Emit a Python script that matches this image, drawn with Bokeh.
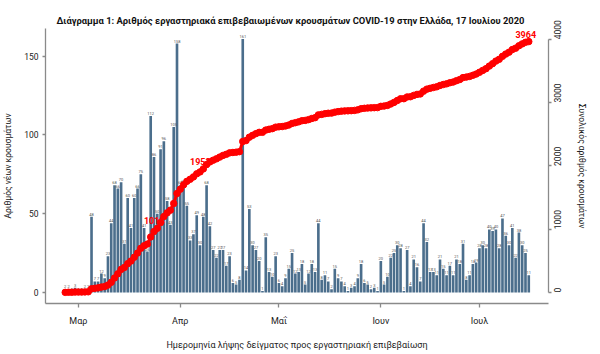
import math
import numpy as np
from bokeh.plotting import figure
from bokeh.models import Range1d, LinearAxis, FixedTicker, ColumnDataSource
from bokeh.embed import file_html
from bokeh.resources import INLINE
from bokeh.core.properties import value

# ---------------- data ----------------
# day index 0 = 26 Feb 2020 ... 141 = 16 Jul 2020
new_cases = [2, 2, 0, 3, 0, 0, 2, 2, 48, 7,
             7, 12, 9, 23, 44, 68, 66, 70, 31, 60,
             41, 60, 66, 75, 41, 26, 112, 86, 50, 91,
             96, 58, 43, 105, 158, 68, 69, 55, 33, 37,
             49, 30, 48, 68, 42, 27, 22, 27, 27, 17,
             23, 6, 5, 8, 161, 14, 53, 30, 27, 20,
             1, 35, 13, 10, 23, 6, 4, 9, 15, 25,
             12, 13, 18, 5, 12, 18, 13, 44, 8, 11,
             7, 2, 15, 9, 7, 4, 1, 3, 4, 9,
             18, 6, 5, 2, 3, 1, 20, 5, 10, 22,
             25, 30, 28, 1, 27, 4, 21, 16, 7, 44,
             32, 13, 13, 11, 21, 15, 11, 17, 11, 21,
             18, 31, 8, 11, 18, 19, 28, 30, 28, 40,
             39, 40, 28, 47, 36, 30, 41, 22, 38, 30,
             25, 11]
day_index = list(range(len(new_cases)))
month_ticks = [4, 35, 65, 96, 126]
month_labels = ["Μαρ", "Απρ", "Μαΐ", "Ιουν", "Ιουλ"]
left_ticks = [0, 50, 100, 150]
right_ticks = [0, 1000, 2000, 3000, 4000]
highlight_days = [28, 42, 141]

title_text = ("Διάγραμμα 1: Αριθμός εργαστηριακά επιβεβαιωμένων κρουσμάτων "
              "COVID-19 στην Ελλάδα, 17 Ιουλίου 2020")
x_title = "Ημερομηνία λήψης δείγματος προς εργαστηριακή επιβεβαίωση"
y_left_title = "Αριθμός νέων κρουσμάτων"
y_right_title = "Συνολικός αριθμός κρουσμάτων"

cum = np.cumsum(new_cases)

FONT = "Roboto"
AXIS_COL = "#8a8a8a"
TXT = "#222222"
X0, X1 = -6.0, 147.0
Y0, Y1 = -7.0, 167.6

p = figure(width=600, height=354, output_backend="svg", toolbar_location=None,
           x_range=Range1d(X0, X1), y_range=Range1d(Y0, Y1),
           min_border_left=43, min_border_right=52, min_border_top=28,
           min_border_bottom=51, background_fill_color="white",
           border_fill_color="white")
p.extra_y_ranges = {"cum": Range1d(-174, 4171)}
p.outline_line_color = None
p.grid.visible = False

p.title.text = title_text
p.title.align = "left"
p.title.offset = 11
p.title.text_font = FONT
p.title.text_font_size = "9.4px"
p.title.text_font_style = "bold"
p.title.text_color = "#111111"
p.title.standoff = 5

# bottom axis
xa = p.xaxis[0]
xa.ticker = FixedTicker(ticks=month_ticks)
xa.major_label_overrides = {t: l for t, l in zip(month_ticks, month_labels)}
xa.minor_tick_line_color = None
xa.major_tick_in = 0
xa.major_tick_out = 4
xa.axis_line_color = AXIS_COL
xa.axis_line_width = 1.3
xa.major_tick_line_color = AXIS_COL
xa.major_tick_line_width = 1.3
xa.major_label_text_font = FONT
xa.major_label_text_font_size = "9px"
xa.major_label_text_color = TXT
xa.major_label_standoff = 8
xa.axis_label = x_title
xa.axis_label_text_font = FONT
xa.axis_label_text_font_size = "9px"
xa.axis_label_text_font_style = "normal"
xa.axis_label_text_color = TXT
xa.axis_label_standoff = 11

# left axis
ya = p.yaxis[0]
ya.ticker = FixedTicker(ticks=left_ticks)
ya.minor_tick_line_color = None
ya.major_tick_in = 0
ya.major_tick_out = 3
ya.axis_line_color = AXIS_COL
ya.axis_line_width = 1.3
ya.major_tick_line_color = AXIS_COL
ya.major_tick_line_width = 1.3
ya.major_label_text_font = FONT
ya.major_label_text_font_size = "8.5px"
ya.major_label_text_color = TXT
ya.major_label_standoff = 4
ya.axis_label = y_left_title
ya.axis_label_text_font = FONT
ya.axis_label_text_font_size = "8.5px"
ya.axis_label_text_font_style = "normal"
ya.axis_label_text_color = TXT
ya.axis_label_standoff = 8

# right axis (cumulative)
ra = LinearAxis(y_range_name="cum", ticker=FixedTicker(ticks=right_ticks))
ra.bounds = (0, 4000)
ra.minor_tick_line_color = None
ra.major_tick_in = 0
ra.major_tick_out = 3
ra.axis_line_color = AXIS_COL
ra.axis_line_width = 1.3
ra.major_tick_line_color = AXIS_COL
ra.major_tick_line_width = 1.3
ra.major_label_text_font = FONT
ra.major_label_text_font_size = "8.5px"
ra.major_label_text_color = TXT
ra.major_label_orientation = math.pi / 2
ra.major_label_standoff = 6
ra.axis_label = y_right_title
ra.axis_label_text_font = FONT
ra.axis_label_text_font_size = "8.5px"
ra.axis_label_text_font_style = "normal"
ra.axis_label_text_color = TXT
ra.axis_label_standoff = 9
p.add_layout(ra, "right")

src = ColumnDataSource(dict(x=day_index, y=new_cases,
                            lab=[str(v) for v in new_cases], cum=cum))

p.vbar(x="x", top="y", width=0.8, source=src, fill_color="#4b6e8c",
       line_color=None)
p.text(x="x", y="y", text="lab", source=src, text_font=value(FONT),
       text_font_size="4px", text_align="center", text_baseline="bottom",
       y_offset=-1, text_color="#555555")

hl = ColumnDataSource(dict(x=highlight_days,
                           y=[int(cum[d]) for d in highlight_days],
                           t=[str(int(cum[d])) for d in highlight_days]))
p.text(x="x", y="y", text="t", source=hl, y_range_name="cum",
       text_font=value(FONT), text_font_size="9px", text_font_style="bold",
       text_color="#ff0000", text_align="center", text_baseline="bottom",
       y_offset=-4, x_offset=-3)

p.line(x="x", y="cum", source=src, y_range_name="cum", line_color="#ff0000",
       line_width=3)
p.scatter(x="x", y="cum", source=src, y_range_name="cum", size=6.5,
          fill_color="#ff0000", line_color="#ff0000")

open("out.html", "w").write(file_html(p, INLINE))
